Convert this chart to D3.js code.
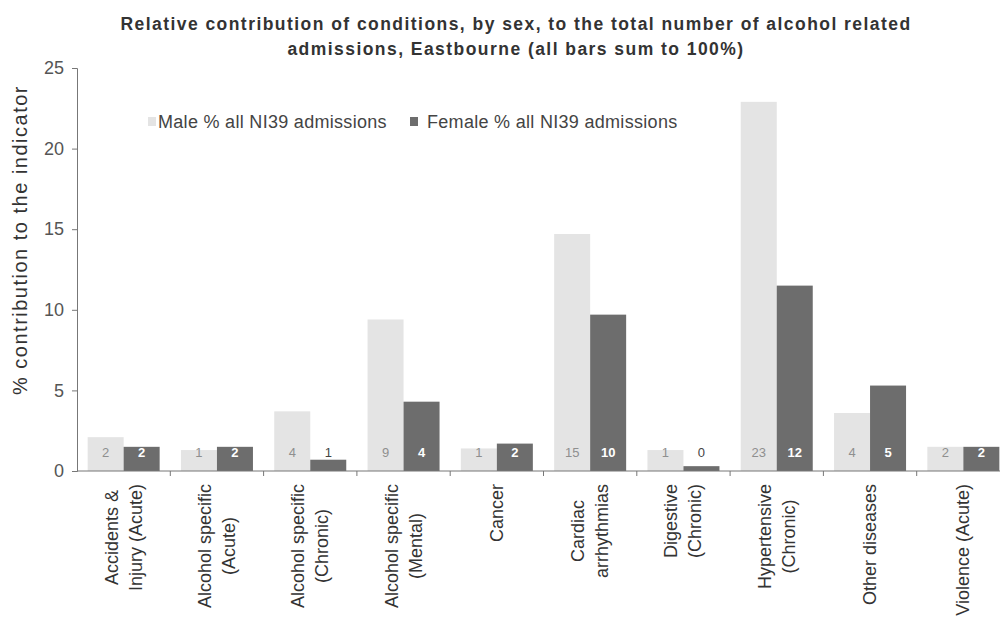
<!DOCTYPE html>
<html>
<head>
<meta charset="utf-8">
<script src="https://cdn.jsdelivr.net/npm/d3@7"></script>
<style>
  html, body { margin: 0; padding: 0; background: #fff; }
  svg { display: block; font-family: "Liberation Sans", Arial, sans-serif; }
</style>
</head>
<body>
<svg id="chart" width="1000" height="620"></svg>
<script>
// Condition groups (x axis), with line breaks for the rotated labels
const categories = [
  "Accidents &\nInjury (Acute)",
  "Alcohol specific\n(Acute)",
  "Alcohol specific\n(Chronic)",
  "Alcohol specific\n(Mental)",
  "Cancer",
  "Cardiac\narrhythmias",
  "Digestive\n(Chronic)",
  "Hypertensive\n(Chronic)",
  "Other diseases",
  "Violence (Acute)"
];

// Share of all NI39 admissions (%), by sex
const maleValues   = [2.1, 1.3, 3.7, 9.4, 1.4, 14.7, 1.3, 22.9, 3.6, 1.5];
const femaleValues = [1.5, 1.5, 0.7, 4.3, 1.7, 9.7, 0.3, 11.5, 5.3, 1.5];

const seriesNames = ["Male % all NI39 admissions", "Female % all NI39 admissions"];
const yTicks = [0, 5, 10, 15, 20, 25];

const colors = { male: "#e4e4e4", female: "#6d6d6d" };

const svg = d3.select("#chart");

const plot = { left: 77, right: 1010, top: 68, bottom: 471 };

const x0 = d3.scaleBand()
  .domain(categories)
  .range([plot.left, plot.right])
  .paddingInner(0)
  .paddingOuter(0);

const bw = x0.bandwidth();
const barW = 36;
const x1 = d3.scaleBand()
  .domain(["male", "female"])
  .range([bw / 2 - barW, bw / 2 + barW]);

const y = d3.scaleLinear().domain([0, 25]).range([plot.bottom, plot.top]);

const rows = categories.map((c, i) => ({ cat: c, male: maleValues[i], female: femaleValues[i] }));

// Title
const title = svg.append("text")
  .attr("text-anchor", "middle")
  .attr("font-size", 17.5)
  .attr("font-weight", "bold")
  .attr("letter-spacing", 1.45)
  .attr("fill", "#333");
title.append("tspan").attr("x", 516).attr("y", 30)
  .text("Relative contribution of conditions, by sex, to the total number of alcohol related");
title.append("tspan").attr("x", 516).attr("y", 55)
  .text("admissions, Eastbourne (all bars sum to 100%)");

// Bars
const groups = svg.append("g").selectAll("g")
  .data(rows)
  .join("g")
  .attr("transform", d => `translate(${x0(d.cat)},0)`);

groups.selectAll("rect")
  .data(d => ["male", "female"].map(k => ({ key: k, value: d[k] })))
  .join("rect")
  .attr("x", d => x1(d.key))
  .attr("width", x1.bandwidth())
  .attr("y", d => y(d.value))
  .attr("height", d => y(0) - y(d.value))
  .attr("fill", d => colors[d.key]);

// Value labels placed at the bar base
groups.selectAll("text.val")
  .data(d => ["male", "female"].map(k => ({ key: k, value: d[k] })))
  .join("text")
  .attr("class", "val")
  .attr("x", d => x1(d.key) + x1.bandwidth() / 2)
  .attr("y", plot.bottom - 14)
  .attr("text-anchor", "middle")
  .attr("font-size", 13)
  .attr("font-weight", d => d.key === "female" && d.value >= 1 ? "bold" : "normal")
  .attr("fill", d => d.key === "male" ? "#8f8f8f" : (d.value >= 1 ? "#fff" : "#444"))
  .text(d => d3.format(".0f")(d.value));

// Y axis
const yAxis = svg.append("g")
  .attr("transform", `translate(${plot.left},0)`)
  .call(d3.axisLeft(y).tickValues(yTicks).tickSize(5).tickPadding(8).tickFormat(d3.format("d")));
yAxis.select(".domain").attr("stroke", "#777");
yAxis.selectAll(".tick line").attr("stroke", "#777");
yAxis.selectAll(".tick text").attr("font-size", 18).attr("fill", "#555")
  .attr("font-family", "Liberation Sans, Arial, sans-serif");

// X axis with ticks on category boundaries
const xAxisG = svg.append("g").attr("transform", `translate(0,${plot.bottom})`);
xAxisG.append("line")
  .attr("x1", plot.left).attr("x2", plot.right)
  .attr("stroke", "#777");
xAxisG.selectAll("line.tk")
  .data(categories.slice(1))
  .join("line")
  .attr("class", "tk")
  .attr("x1", d => x0(d)).attr("x2", d => x0(d))
  .attr("y1", 0).attr("y2", 5)
  .attr("stroke", "#777");

// Rotated category labels; the longest line ends just below the axis
const labelTop = 484;
const lineH = 24;
const labelG = svg.append("g");
rows.forEach(r => {
  const lines = r.cat.split("\n");
  const cx = x0(r.cat) + bw / 2;
  const g = labelG.append("g");
  const texts = lines.map(ln => g.append("text")
    .attr("font-size", 18)
    .attr("fill", "#333")
    .attr("text-anchor", "middle")
    .text(ln));
  const maxLen = d3.max(texts, t => t.node().getComputedTextLength());
  const cy = labelTop + maxLen / 2;
  texts.forEach((t, i) => {
    const off = (i - (lines.length - 1) / 2) * lineH + 6;
    t.attr("transform", `translate(${cx + off},${cy}) rotate(-90)`);
  });
});

// Y axis title
svg.append("text")
  .attr("transform", "translate(27,240) rotate(-90)")
  .attr("text-anchor", "middle")
  .attr("font-size", 20)
  .attr("letter-spacing", 1.5)
  .attr("fill", "#333")
  .text("% contribution to the indicator");

// Legend
const legend = svg.append("g");
const legendItems = [
  { name: seriesNames[0], color: colors.male, sx: 148, tx: 158 },
  { name: seriesNames[1], color: colors.female, sx: 410, tx: 427 }
];
legend.selectAll("rect")
  .data(legendItems)
  .join("rect")
  .attr("x", d => d.sx).attr("y", 117)
  .attr("width", 8).attr("height", 9)
  .attr("fill", d => d.color);
legend.selectAll("text")
  .data(legendItems)
  .join("text")
  .attr("x", d => d.tx).attr("y", 128)
  .attr("font-size", 18)
  .attr("letter-spacing", 0.3)
  .attr("fill", "#444")
  .text(d => d.name);
</script>
</body>
</html>
